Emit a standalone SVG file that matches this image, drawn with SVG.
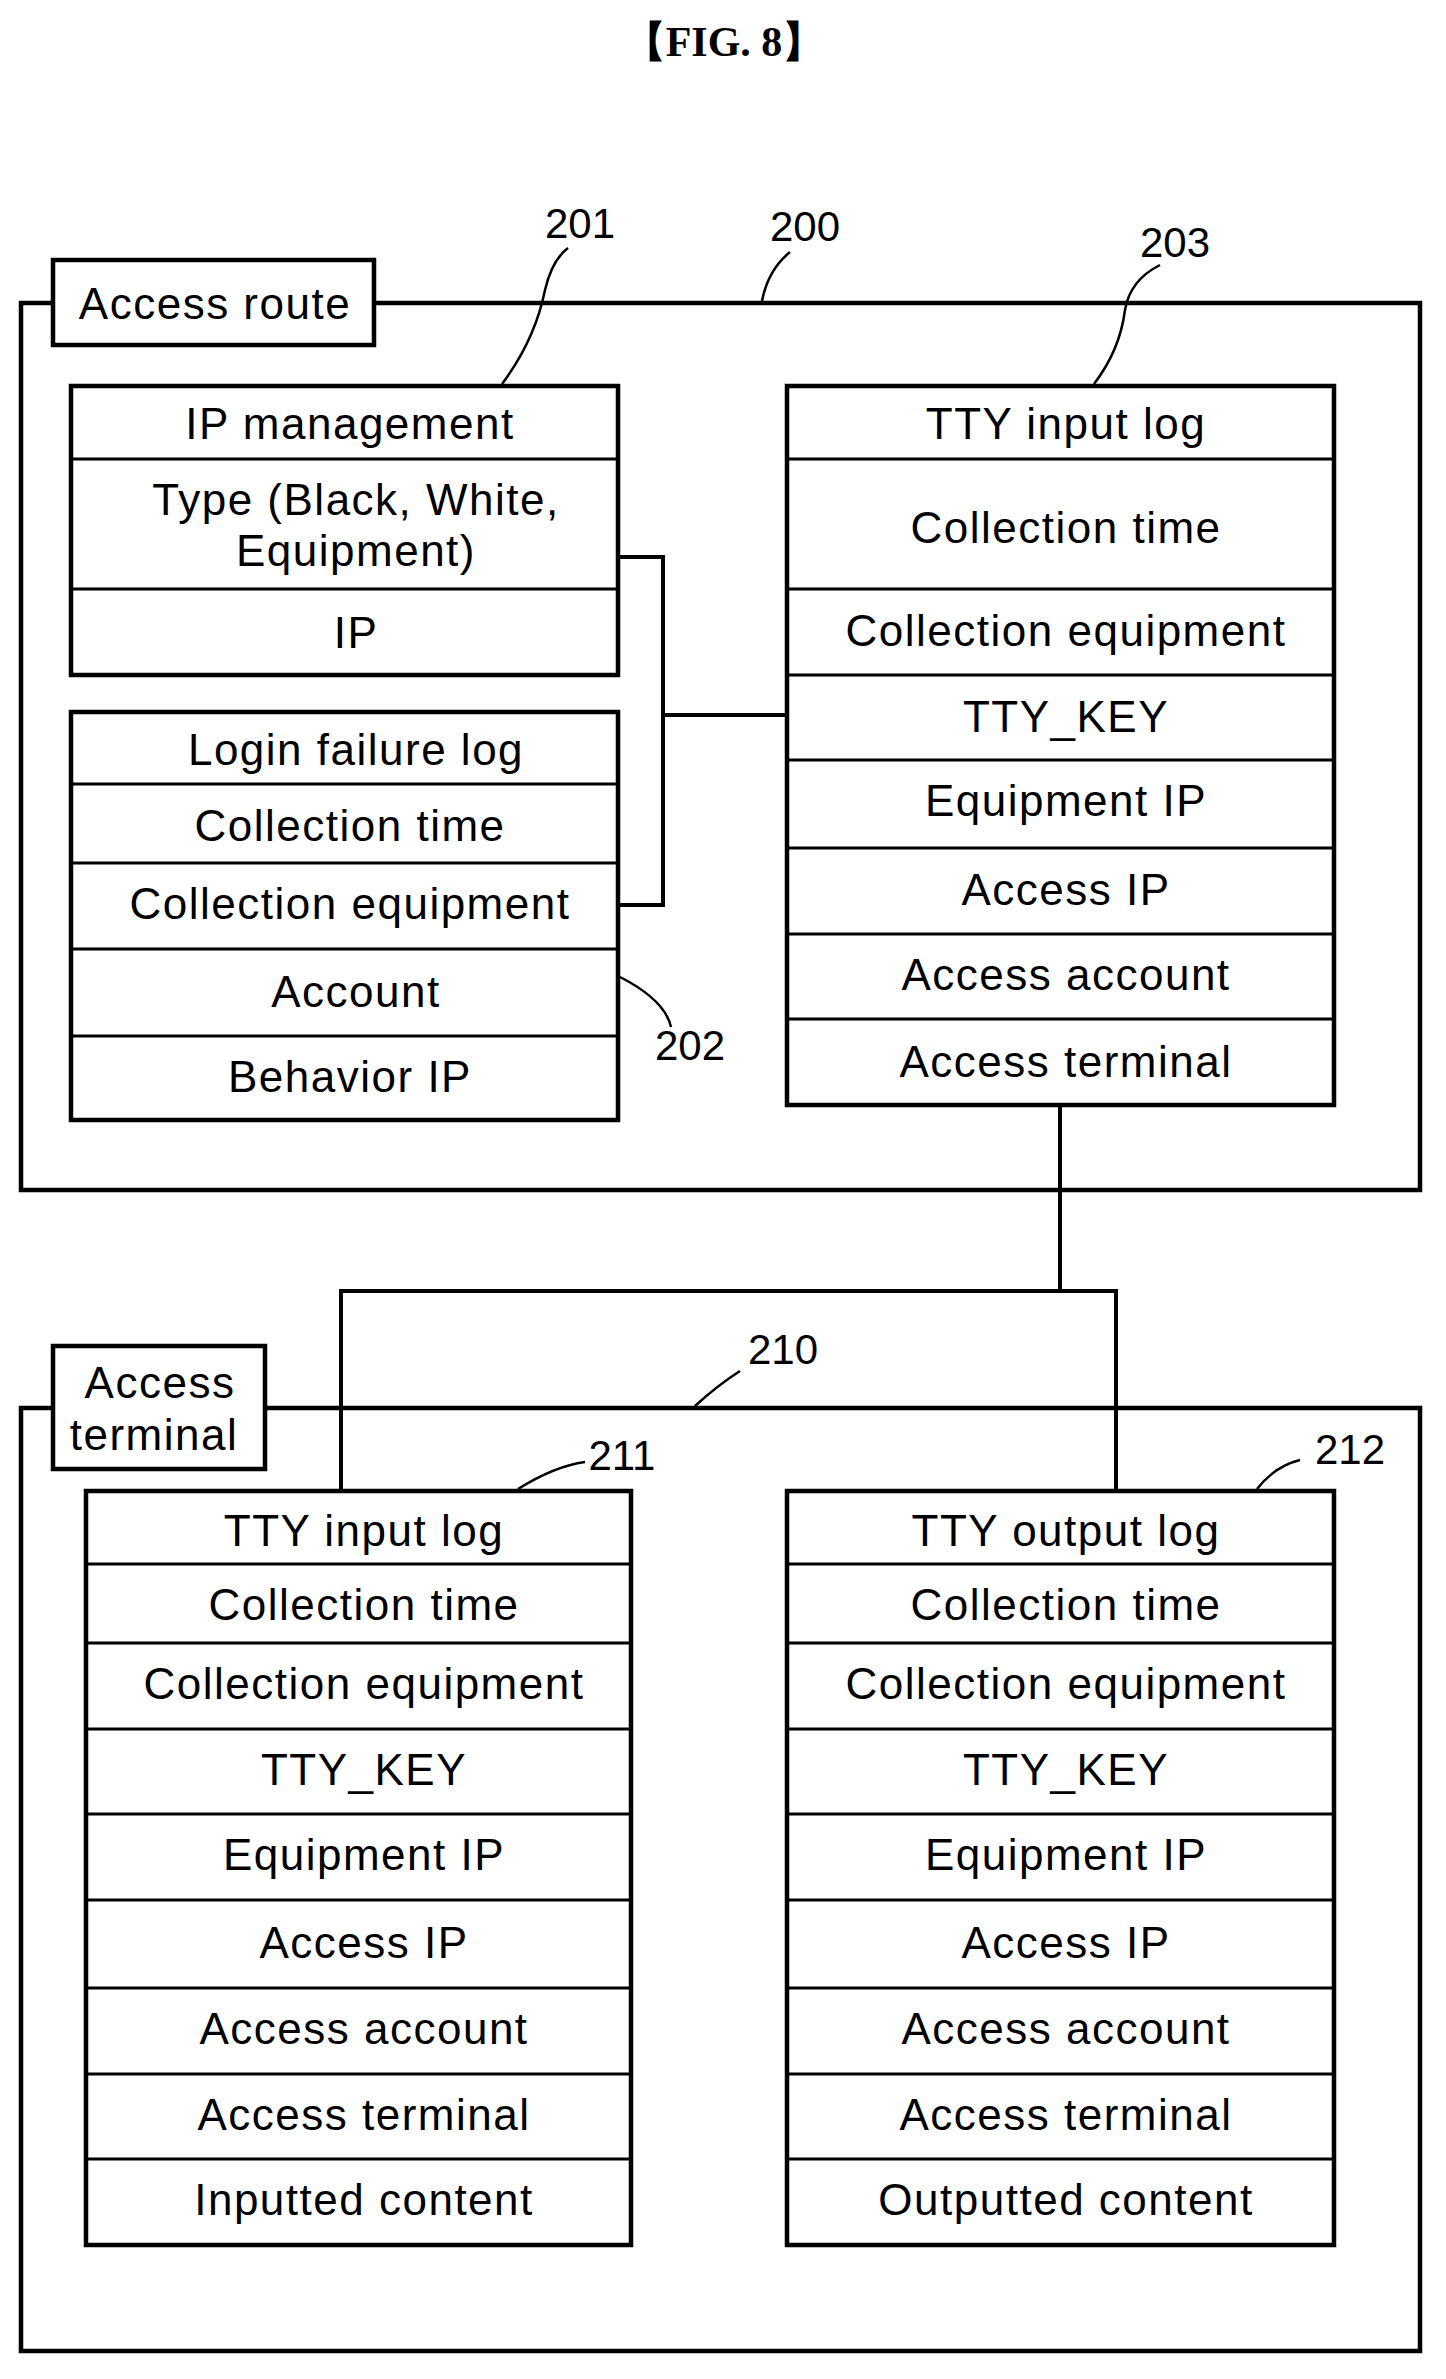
<svg xmlns="http://www.w3.org/2000/svg" width="1446" height="2379" viewBox="0 0 1446 2379">
<style>
.b{fill:#fff;stroke:#000;stroke-width:4.5}
.r{stroke:#000;stroke-width:3}
.c{fill:none;stroke:#000;stroke-width:4}
.l{fill:none;stroke:#000;stroke-width:2.5}
text{font-family:"Liberation Sans",Arial,sans-serif;font-size:44px;letter-spacing:1.5px;text-anchor:middle;dominant-baseline:central;fill:#000}
.n{font-size:42px;letter-spacing:0}
</style>
<rect width="1446" height="2379" fill="#fff"/>
<text x="724" y="42" style="font-family:'Liberation Serif',serif;font-size:42px;font-weight:bold;letter-spacing:0">【FIG. 8】</text>

<g id="n200">
<rect class="b" x="21" y="303" width="1399" height="887"/>
<rect class="b" x="53" y="260" width="321" height="85"/>
<text x="215" y="303">Access route</text>
<path class="l" d="M762 301 Q768 270 790 252"/><text class="n" x="805" y="226">200</text>
</g>

<g id="n201">
<rect class="b" x="71" y="386" width="547" height="289"/>
<line class="r" x1="71" y1="459" x2="618" y2="459"/>
<line class="r" x1="71" y1="589" x2="618" y2="589"/>
<text x="350" y="423">IP management</text>
<text x="356" y="499">Type (Black, White,</text>
<text x="356" y="550">Equipment)</text>
<text x="356" y="632">IP</text>
<path class="l" d="M502 384 Q535 340 545 290 Q552 260 568 248"/><text class="n" x="580" y="223">201</text>
</g>

<g id="n202">
<rect class="b" x="71" y="712" width="547" height="408"/>
<line class="r" x1="71" y1="784" x2="618" y2="784"/>
<line class="r" x1="71" y1="863" x2="618" y2="863"/>
<line class="r" x1="71" y1="949" x2="618" y2="949"/>
<line class="r" x1="71" y1="1036" x2="618" y2="1036"/>
<text x="356" y="749">Login failure log</text>
<text x="350" y="825">Collection time</text>
<text x="350" y="903">Collection equipment</text>
<text x="356" y="991">Account</text>
<text x="350" y="1076">Behavior IP</text>
<path class="l" d="M620 977 Q665 1000 671 1027"/><text class="n" x="690" y="1045">202</text>
</g>

<g id="n203">
<rect class="b" x="787" y="386" width="547" height="719"/>
<line class="r" x1="787" y1="459" x2="1334" y2="459"/>
<line class="r" x1="787" y1="589" x2="1334" y2="589"/>
<line class="r" x1="787" y1="675" x2="1334" y2="675"/>
<line class="r" x1="787" y1="760" x2="1334" y2="760"/>
<line class="r" x1="787" y1="848" x2="1334" y2="848"/>
<line class="r" x1="787" y1="934" x2="1334" y2="934"/>
<line class="r" x1="787" y1="1019" x2="1334" y2="1019"/>
<text x="1066" y="423">TTY input log</text>
<text x="1066" y="527">Collection time</text>
<text x="1066" y="630">Collection equipment</text>
<text x="1066" y="716">TTY_KEY</text>
<text x="1066" y="800">Equipment IP</text>
<text x="1066" y="889">Access IP</text>
<text x="1066" y="974">Access account</text>
<text x="1066" y="1061">Access terminal</text>
<path class="l" d="M1094 384 Q1120 350 1125 310 Q1130 280 1160 265"/><text class="n" x="1175" y="242">203</text>
</g>

<g id="n210">
<rect class="b" x="21" y="1408" width="1399" height="943"/>
<rect class="b" x="53" y="1346" width="212" height="123"/>
<text x="160" y="1382">Access</text>
<text x="154" y="1434">terminal</text>
<path class="l" d="M695 1406 Q718 1385 740 1371"/><text class="n" x="783" y="1349">210</text>
</g>

<g id="n211">
<rect class="b" x="86" y="1491" width="545" height="754"/>
<line class="r" x1="86" y1="1564" x2="631" y2="1564"/>
<line class="r" x1="86" y1="1643" x2="631" y2="1643"/>
<line class="r" x1="86" y1="1729" x2="631" y2="1729"/>
<line class="r" x1="86" y1="1814" x2="631" y2="1814"/>
<line class="r" x1="86" y1="1900" x2="631" y2="1900"/>
<line class="r" x1="86" y1="1988" x2="631" y2="1988"/>
<line class="r" x1="86" y1="2074" x2="631" y2="2074"/>
<line class="r" x1="86" y1="2159" x2="631" y2="2159"/>
<text x="364" y="1530">TTY input log</text>
<text x="364" y="1604">Collection time</text>
<text x="364" y="1683">Collection equipment</text>
<text x="364" y="1769">TTY_KEY</text>
<text x="364" y="1854">Equipment IP</text>
<text x="364" y="1942">Access IP</text>
<text x="364" y="2028">Access account</text>
<text x="364" y="2114">Access terminal</text>
<text x="364" y="2199">Inputted content</text>
<path class="l" d="M518 1489 Q555 1466 585 1462"/><text class="n" x="622" y="1455">211</text>
</g>

<g id="n212">
<rect class="b" x="787" y="1491" width="547" height="754"/>
<line class="r" x1="787" y1="1564" x2="1334" y2="1564"/>
<line class="r" x1="787" y1="1643" x2="1334" y2="1643"/>
<line class="r" x1="787" y1="1729" x2="1334" y2="1729"/>
<line class="r" x1="787" y1="1814" x2="1334" y2="1814"/>
<line class="r" x1="787" y1="1900" x2="1334" y2="1900"/>
<line class="r" x1="787" y1="1988" x2="1334" y2="1988"/>
<line class="r" x1="787" y1="2074" x2="1334" y2="2074"/>
<line class="r" x1="787" y1="2159" x2="1334" y2="2159"/>
<text x="1066" y="1530">TTY output log</text>
<text x="1066" y="1604">Collection time</text>
<text x="1066" y="1683">Collection equipment</text>
<text x="1066" y="1769">TTY_KEY</text>
<text x="1066" y="1854">Equipment IP</text>
<text x="1066" y="1942">Access IP</text>
<text x="1066" y="2028">Access account</text>
<text x="1066" y="2114">Access terminal</text>
<text x="1066" y="2199">Outputted content</text>
<path class="l" d="M1257 1489 Q1275 1466 1300 1460"/><text class="n" x="1350" y="1449">212</text>
</g>

<g id="connectors">
<path class="c" d="M618 557 H663 V905 H618"/>
<path class="c" d="M663 715 H787"/>
<path class="c" d="M1060 1105 V1291"/>
<path class="c" d="M341 1491 V1291 H1116 V1491"/>
</g>
</svg>
